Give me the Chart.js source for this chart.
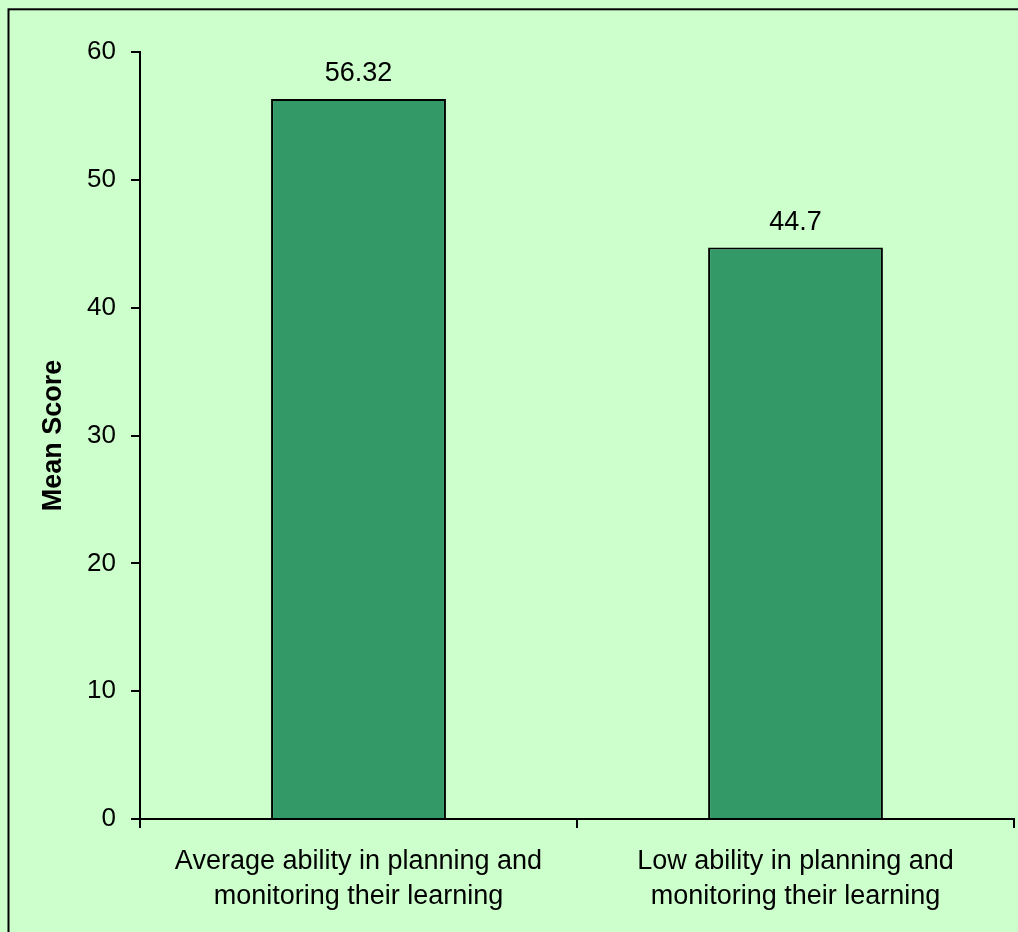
<!DOCTYPE html>
<html>
<head>
<meta charset="utf-8">
<title>Mean Score by Planning and Monitoring Ability</title>
<script src="https://cdn.jsdelivr.net/npm/chart.js@4.4.1/dist/chart.umd.min.js"></script>
<style>
  html, body { margin: 0; padding: 0; background: #CCFFCC; }
  canvas { display: block; }
</style>
</head>
<body>
<canvas id="chart" width="1018" height="932"></canvas>
<script>
// Categories (two-line labels), mean scores and y-axis ticks
const categories = [
  ["Average ability in planning and", "monitoring their learning"],
  ["Low ability in planning and", "monitoring their learning"]
];
const meanScores = [56.32, 44.7];
const scoreLabels = ["56.32", "44.7"];
const yTicks = [0, 10, 20, 30, 40, 50, 60];

const FONT = "'Liberation Sans', Arial, Helvetica, sans-serif";

// Paints the pale green page and the framing border
const backdrop = {
  id: 'backdrop',
  beforeDraw(chart) {
    const ctx = chart.ctx;
    ctx.save();
    ctx.fillStyle = '#CCFFCC';
    ctx.fillRect(0, 0, chart.width, chart.height);
    ctx.strokeStyle = '#000000';
    ctx.lineWidth = 2;
    ctx.strokeRect(8.5, 9.3, chart.width + 20, chart.height + 20);
    ctx.restore();
  }
};

// Writes each bar's value just above its top
const valueLabels = {
  id: 'valueLabels',
  afterDatasetsDraw(chart) {
    const ctx = chart.ctx;
    const meta = chart.getDatasetMeta(0);
    ctx.save();
    ctx.fillStyle = '#000000';
    ctx.font = '27px ' + FONT;
    ctx.textAlign = 'center';
    ctx.textBaseline = 'alphabetic';
    meta.data.forEach((bar, i) => {
      ctx.fillText(scoreLabels[i], bar.x, bar.y - 18);
    });
    ctx.restore();
  }
};

new Chart(document.getElementById('chart'), {
  type: 'bar',
  data: {
    labels: categories,
    datasets: [{
      data: meanScores,
      backgroundColor: '#339966',
      borderColor: '#000000',
      borderWidth: 2,
      barPercentage: 0.4,
      categoryPercentage: 1.0
    }]
  },
  options: {
    responsive: false,
    animation: false,
    devicePixelRatio: 1,
    layout: { padding: { left: 0, top: 52, right: 4, bottom: 0 } },
    plugins: {
      legend: { display: false },
      tooltip: { enabled: false }
    },
    scales: {
      x: {
        grid: {
          offset: true,
          drawOnChartArea: false,
          drawTicks: true,
          tickLength: 9,
          color: '#000000',
          lineWidth: 2
        },
        border: { display: true, color: '#000000', width: 2 },
        ticks: {
          color: '#000000',
          font: { family: FONT, size: 27, lineHeight: 1.3 },
          padding: 16,
          maxRotation: 0,
          autoSkip: false
        },
        afterFit(scale) { scale.height = 932 - 819; }
      },
      y: {
        min: 0,
        max: 60,
        afterBuildTicks(scale) { scale.ticks = yTicks.map(v => ({ value: v })); },
        grid: {
          drawOnChartArea: false,
          drawTicks: true,
          tickLength: 9,
          color: '#000000',
          lineWidth: 2
        },
        border: { display: true, color: '#000000', width: 2 },
        ticks: {
          color: '#000000',
          font: { family: FONT, size: 26 },
          padding: 15
        },
        title: {
          display: true,
          text: 'Mean Score',
          color: '#000000',
          font: { family: FONT, size: 27, weight: 'bold', lineHeight: 1.2 },
          padding: { top: 37, bottom: 0 }
        },
        afterFit(scale) { scale.width = 140; }
      }
    }
  },
  plugins: [backdrop, valueLabels]
});
</script>
</body>
</html>
